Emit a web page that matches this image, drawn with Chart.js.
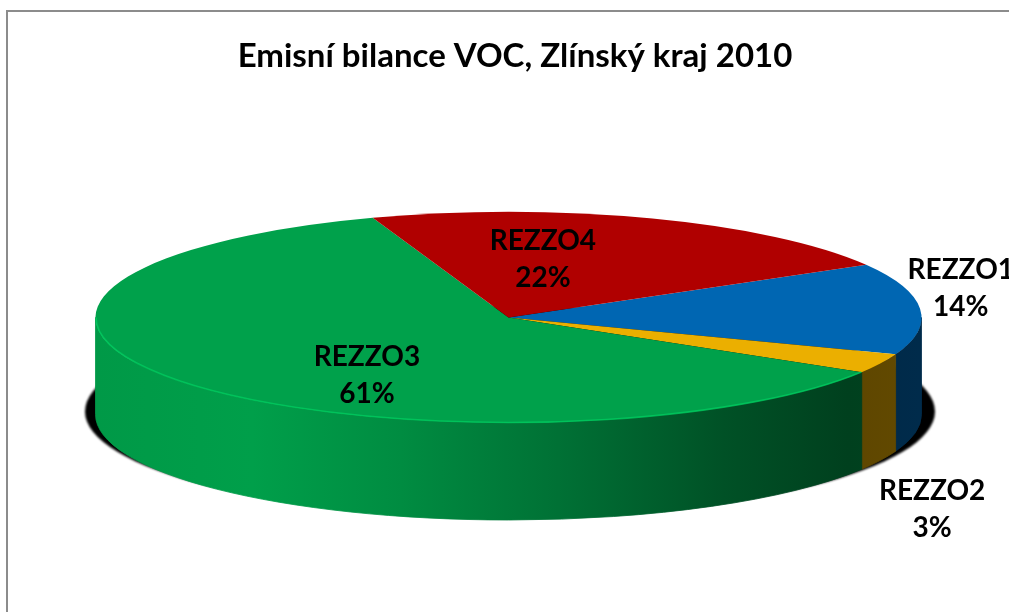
<!DOCTYPE html>
<html>
<head>
<meta charset="utf-8">
<title>Emisní bilance VOC</title>
<script src="https://cdn.jsdelivr.net/npm/chart.js@4.4.0/dist/chart.umd.min.js"></script>
<style>
  html, body { margin: 0; padding: 0; background: #fff; }
  #wrap { position: relative; width: 1009px; height: 612px; }
</style>
</head>
<body>
<div id="wrap"><canvas id="voc-chart" width="1009" height="612"></canvas></div>
<script>
  const chartTitle = 'Emisní bilance VOC, Zlínský kraj 2010';
  const categories = ['REZZO1', 'REZZO2', 'REZZO3', 'REZZO4'];
  const shares = [14, 3, 61, 22];
  const sliceColors = ['#0066b2', '#ebaf00', '#00a14b', '#b00000'];

  // tilted disc: top ellipse centre, radii and wall height
  const DISC = { cx: 508.5, cy: 317.5, rx: 413, ry: 105.5, depth: 97 };
  // brightness of the front wall from left to right edge
  const WALL_SHADE = [[0, 0.95], [0.19, 0.99], [0.37, 0.87], [0.56, 0.70], [0.76, 0.50], [0.91, 0.40], [1, 0.42]];
  // label anchor: radius factor on the ellipse + small nudge
  const LABEL_PLACE = {
    REZZO1: { f: 1.15, dx: -21, dy: -19 },
    REZZO2: { f: 1.15, dx: -4, dy: 139 },
    REZZO3: { f: 0.6, dx: 51, dy: 18 },
    REZZO4: { f: 0.6, dx: -52, dy: 1 }
  };

  function shade(hex, k) {
    const n = parseInt(hex.slice(1), 16);
    const r = Math.min(255, Math.round(((n >> 16) & 255) * k));
    const g = Math.min(255, Math.round(((n >> 8) & 255) * k));
    const b = Math.min(255, Math.round((n & 255) * k));
    return `rgb(${r},${g},${b})`;
  }

  // thin grey frame along the top and left edge
  const framePlugin = {
    id: 'frame',
    beforeDraw(chart) {
      const ctx = chart.ctx;
      ctx.save();
      ctx.strokeStyle = '#8c8c8c';
      ctx.lineWidth = 2;
      ctx.beginPath();
      ctx.moveTo(7, chart.height);
      ctx.lineTo(7, 11);
      ctx.lineTo(chart.width, 11);
      ctx.stroke();
      ctx.restore();
    }
  };

  // draws shadow and side walls, then squashes the pie into the top ellipse
  const pie3dPlugin = {
    id: 'pie3d',
    beforeDatasetsDraw(chart) {
      const ctx = chart.ctx;
      const arcs = chart.getDatasetMeta(0).data;
      const { cx, cy, rx, ry, depth } = DISC;

      ctx.save();
      // drop shadow under the disc
      ctx.fillStyle = '#000';
      ctx.filter = 'blur(0.8px)';
      ctx.beginPath();
      ctx.ellipse(cx + 1.5, cy + depth - 3, rx + 12, ry, 0, 0, Math.PI * 2);
      ctx.fill();
      ctx.filter = 'none';

      // front walls, only the part facing the viewer (0..PI)
      arcs.forEach((el, i) => {
        const grad = ctx.createLinearGradient(cx - rx, 0, cx + rx, 0);
        WALL_SHADE.forEach(([p, k]) => grad.addColorStop(p, shade(sliceColors[i], k)));
        for (let k = -1; k <= 1; k++) {
          const a0 = Math.max(el.startAngle, 2 * Math.PI * k);
          const a1 = Math.min(el.endAngle, 2 * Math.PI * k + Math.PI);
          if (a1 <= a0) continue;
          ctx.beginPath();
          ctx.ellipse(cx, cy, rx, ry, 0, a0, a1);
          ctx.lineTo(cx + rx * Math.cos(a1), cy + depth + ry * Math.sin(a1));
          ctx.ellipse(cx, cy + depth, rx, ry, 0, a1, a0, true);
          ctx.closePath();
          ctx.fillStyle = grad;
          ctx.fill();
          ctx.strokeStyle = grad;
          ctx.lineWidth = 0.8;
          ctx.stroke();
        }
      });
      ctx.restore();

      // map Chart.js' circle onto the top ellipse
      const el = arcs[0];
      ctx.save();
      ctx.translate(cx, cy);
      ctx.scale(rx / el.outerRadius, ry / el.outerRadius);
      ctx.translate(-el.x, -el.y);
    },
    afterDatasetsDraw(chart) {
      const ctx = chart.ctx;
      ctx.restore();
      const arcs = chart.getDatasetMeta(0).data;
      const { cx, cy, rx, ry } = DISC;
      const total = shares.reduce((s, v) => s + v, 0);

      // light rim on the front edge of the green top face
      ctx.save();
      ctx.lineWidth = 1.6;
      arcs.forEach((el, i) => {
        if (categories[i] !== 'REZZO3') return;
        for (let k = -1; k <= 1; k++) {
          const a0 = Math.max(el.startAngle, 2 * Math.PI * k);
          const a1 = Math.min(el.endAngle, 2 * Math.PI * k + Math.PI);
          if (a1 <= a0) continue;
          ctx.strokeStyle = shade(sliceColors[i], 1.3);
          ctx.globalAlpha = 0.7;
          ctx.beginPath();
          ctx.ellipse(cx, cy, rx - 0.5, ry - 0.5, 0, a0, a1);
          ctx.stroke();
        }
      });
      ctx.restore();

      // category + percent labels
      ctx.save();
      ctx.fillStyle = '#000';
      ctx.font = 'bold 28px Lato';
      ctx.textAlign = 'center';
      ctx.textBaseline = 'middle';
      arcs.forEach((el, i) => {
        const place = LABEL_PLACE[categories[i]];
        const mid = (el.startAngle + el.endAngle) / 2;
        const x = cx + place.f * rx * Math.cos(mid) + place.dx;
        const y = cy + place.f * ry * Math.sin(mid) + place.dy;
        ctx.fillText(categories[i], x, y - 18);
        ctx.fillText(Math.round(shares[i] / total * 100) + '%', x, y + 19);
      });
      ctx.restore();
    }
  };

  new Chart(document.getElementById('voc-chart'), {
    type: 'pie',
    data: {
      labels: categories,
      datasets: [{
        data: shares,
        backgroundColor: sliceColors,
        borderWidth: 0,
        clip: false
      }]
    },
    options: {
      responsive: false,
      animation: false,
      events: [],
      rotation: 60,
      layout: { padding: { left: 21 } },
      plugins: {
        legend: { display: false },
        tooltip: { enabled: false },
        title: {
          display: true,
          text: chartTitle,
          color: '#000',
          font: { family: 'Lato', size: 33, weight: 'bold' },
          padding: { top: 37, bottom: 20 }
        }
      }
    },
    plugins: [framePlugin, pie3dPlugin]
  });
</script>
</body>
</html>
